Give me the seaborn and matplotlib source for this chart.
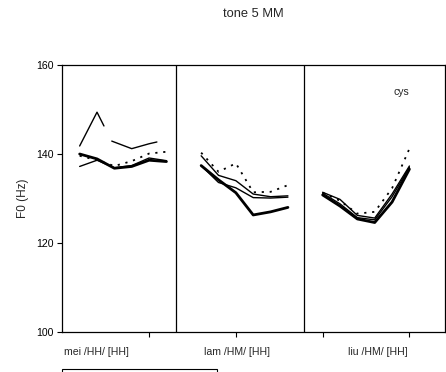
import numpy as np
import pandas as pd
import matplotlib
matplotlib.use("Agg")
import matplotlib.pyplot as plt
import seaborn as sns
from matplotlib.patches import Rectangle

sns.set_theme(style="white")
plt.rcParams['font.family'] = ['Liberation Sans', 'DejaVu Sans']

# ---- data ----
title = "tone 5 MM"
syllables = ["mei /HH/ [HH]", "lam /HM/ [HH]", "liu /HM/ [HH]"]
panel_offsets = [0.0, 1.4, 2.8]
time_points = [0.2, 0.4, 0.6, 0.8, 1.0, 1.2]

# mei
mei_thick = [140.0, 138.9, 136.8, 137.2, 138.6, 138.3]
mei_thin = [137.2, 138.6, 136.9, 137.4, 139.1, 138.5]
mei_dotted = [139.6, 138.6, 137.3, 138.4, 140.1, 140.5]
mei_thin2_t = [0.2, 0.4, 0.48, np.nan, 0.57, 0.8, 1.0, 1.09]
mei_thin2 = [141.8, 149.4, 146.3, np.nan, 142.9, 141.2, 142.3, 142.7]
# lam
lam_thick = [137.4, 134.2, 131.3, 126.3, 127.0, 128.0]
lam_thin = [139.6, 135.2, 134.0, 131.0, 130.4, 130.6]
lam_thin2 = [137.4, 133.6, 132.4, 130.2, 130.1, 130.3]
lam_dotted = [140.3, 136.0, 137.9, 131.4, 131.5, 133.0]
# liu
liu_thick = [130.8, 128.3, 125.4, 124.6, 129.2, 136.6]
liu_thin = [131.4, 129.8, 126.2, 125.6, 131.0, 137.3]
liu_thin2 = [131.2, 128.8, 125.7, 125.2, 130.4, 137.0]
liu_dotted = [131.3, 129.5, 126.6, 127.0, 132.3, 141.2]

y_ticks = [100, 120, 140, 160]
panel_bounds = [1.31, 2.78]
label_pos = [0.39, 2.01, 3.64]

styles = {
    "thick": dict(lw=2.0, ls="-"),
    "thin": dict(lw=1.0, ls="-"),
    "thin2": dict(lw=1.0, ls="-"),
    "dotted": dict(lw=1.3, ls=(0, (1.2, 3.2))),
}

fig = plt.figure(figsize=(4.46, 3.72), dpi=100)
ax = fig.add_axes([62.3 / 446, 1 - 332 / 372, (445 - 62.3) / 446, (332 - 65) / 372])

def draw(t, vals, offset, kind):
    t = np.asarray(t, float) + offset
    v = np.asarray(vals, float)
    mask = ~np.isnan(v)
    idx = np.where(mask)[0]
    if len(idx) == 0:
        return
    groups = np.split(idx, np.where(np.diff(idx) != 1)[0] + 1)
    for g in groups:
        df = pd.DataFrame({"t": t[g], "f0": v[g]})
        sns.lineplot(data=df, x="t", y="f0", ax=ax, color="black",
                     linewidth=styles[kind]["lw"], linestyle=styles[kind]["ls"],
                     estimator=None, sort=False)

off = panel_offsets
draw(time_points, mei_thin, off[0], "thin")
draw(time_points, mei_dotted, off[0], "dotted")
draw(mei_thin2_t, mei_thin2, off[0], "thin")
draw(time_points, mei_thick, off[0], "thick")

draw(time_points, lam_thin, off[1], "thin")
draw(time_points, lam_thin2, off[1], "thin2")
draw(time_points, lam_dotted, off[1], "dotted")
draw(time_points, lam_thick, off[1], "thick")

draw(time_points, liu_thin, off[2], "thin")
draw(time_points, liu_thin2, off[2], "thin2")
draw(time_points, liu_dotted, off[2], "dotted")
draw(time_points, liu_thick, off[2], "thick")

for b in panel_bounds:
    ax.axvline(b, color="black", lw=0.9)

ax.set_xlim(0, 4.41)
ax.set_ylim(100, 160)
ax.set_yticks(y_ticks)
ax.set_xticks([1, 2, 3, 4])
ax.set_xticklabels([])
ax.tick_params(axis="both", direction="out", length=3.5, width=0.8,
               colors="black", labelsize=7.6, pad=3)
ax.tick_params(axis="x", bottom=True)
ax.tick_params(axis="y", left=True)
ax.set_xlabel("")
ax.set_ylabel("F0 (Hz)", fontsize=8.5, labelpad=5)
for s in ax.spines.values():
    s.set_color("black")
    s.set_linewidth(0.9)
ax.grid(False)

for x, lab in zip(label_pos, syllables):
    ax.text(x, -0.075, lab, transform=ax.get_xaxis_transform(),
            ha="center", va="center", fontsize=7.6)

ax.text(3.91, 153.9, "cys", ha="center", va="center", fontsize=7.6)

fig.text(253 / 446, 1 - 14 / 372, title, ha="center", va="center", fontsize=9.3)

fig.patches.append(Rectangle((62.3 / 446, -0.02), (217 - 62.3) / 446, 3 / 372 + 0.02,
                             transform=fig.transFigure, fill=False,
                             edgecolor="black", lw=0.8))

fig.savefig("out.png", dpi=100)
